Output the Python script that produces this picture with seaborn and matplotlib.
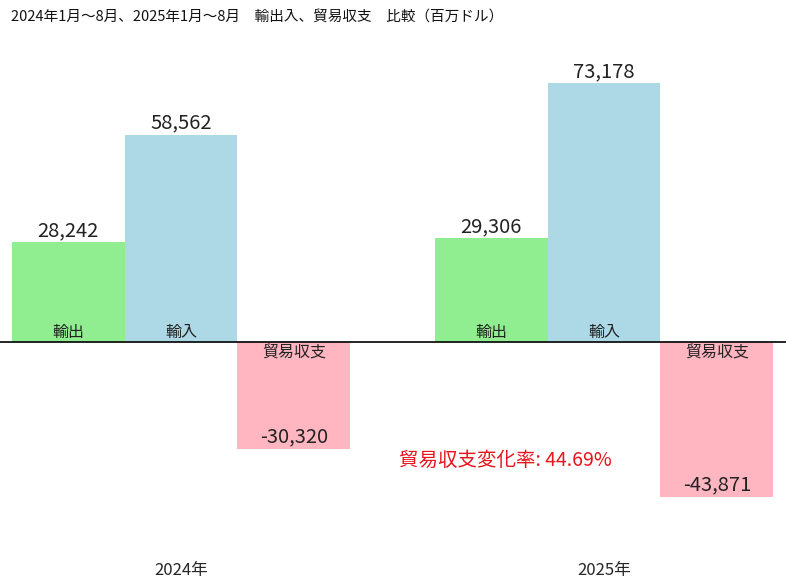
import matplotlib
matplotlib.use('Agg')
import matplotlib.pyplot as plt
import seaborn as sns
import pandas as pd

# ---- data ----
years = ['2024年', '2025年']
series = ['輸出', '輸入', '貿易収支']
exports = [28242, 29306]
imports = [58562, 73178]
balance = [-30320, -43871]
change_rate = 44.69
title = '2024年1月～8月、2025年1月～8月　輸出入、貿易収支　比較（百万ドル）'

values = {'輸出': exports, '輸入': imports, '貿易収支': balance}
df = pd.DataFrame([
    {'year': y, 'series': s, 'value': values[s][i]}
    for s in series for i, y in enumerate(years)
])

sns.set_theme(style='white')
plt.rcParams['font.family'] = ['Noto Sans CJK JP', 'DejaVu Sans']

W, H = 786, 586
fig = plt.figure(figsize=(W / 100, H / 100), dpi=100)
top_px, bot_px = 40, 555
ax = fig.add_axes([0, (H - bot_px) / H, 1, (bot_px - top_px) / H])

sns.barplot(data=df, x='year', y='value', hue='series', order=years,
            hue_order=series, palette=['#90EE90', '#ADD8E6', '#FFB6C1'],
            saturation=1, width=0.8, ax=ax, legend=False, errorbar=None,
            linewidth=0, edgecolor='none')

scale = 283.0
zero_px = 342
ax.set_ylim(-(bot_px - zero_px) * scale, (zero_px - top_px) * scale)
ax.set_xlim(-0.428, 1.430)
ax.axhline(0, color='black', lw=1.2)

for container, s in zip(ax.containers, series):
    for bar, v in zip(container, values[s]):
        x = bar.get_x() + bar.get_width() / 2
        if v >= 0:
            ax.annotate(f'{v:,}', (x, v), xytext=(0, 1), textcoords='offset points',
                        ha='center', va='bottom', fontsize=14.5, color='#222222')
            ax.annotate(s, (x, 0), xytext=(0, 1), textcoords='offset points',
                        ha='center', va='bottom', fontsize=11.5, color='#222222')
        else:
            ax.annotate(f'{v:,}', (x, v), xytext=(0, 1), textcoords='offset points',
                        ha='center', va='bottom', fontsize=14.5, color='#222222')
            ax.annotate(s, (x, 0), xytext=(0, -2), textcoords='offset points',
                        ha='center', va='top', fontsize=11.5, color='#222222')

ax.text(0.766, -33400, f'貿易収支変化率: {change_rate:.2f}%', color='#e8141c',
        fontsize=14, ha='center', va='center')

ax.set_xlabel('')
ax.set_ylabel('')
ax.set_yticks([])
ax.tick_params(axis='x', length=0, labelsize=12, pad=5)
for sp in ax.spines.values():
    sp.set_visible(False)

fig.text(257 / W, 1 - 18 / H, title, ha='center', va='center', fontsize=10.5, color='#111111')

fig.savefig('out.png', dpi=100, facecolor='white')
